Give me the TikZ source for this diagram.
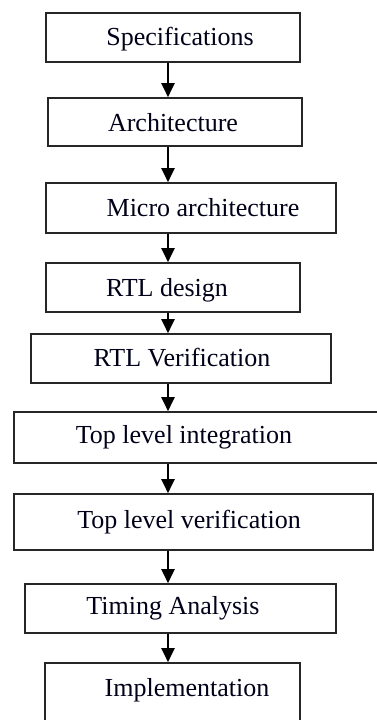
\documentclass[tikz,border=0pt]{standalone}
\usepackage{fontspec}
\setmainfont{Liberation Serif}
\usetikzlibrary{arrows.meta}
\begin{document}
\begin{tikzpicture}[x=1pt,y=-1pt,
  stagebox/.style={draw=black!85,line width=1.6pt,fill=white},
  lbl/.style={font=\fontsize{26}{30}\selectfont,text=black!90!blue,inner sep=0pt,anchor=center},
  flow/.style={line width=2pt,-{Triangle[width=13pt,length=14pt]}}]
\useasboundingbox (0,0) rectangle (377,720);
\clip (0,0) rectangle (377,720);
\coordinate (ax) at (168,0);
% boxes
\node[stagebox,minimum width=254pt,minimum height=49pt,inner sep=0pt] (b1) at (173,37.5) {};
\node[stagebox,minimum width=254pt,minimum height=48pt,inner sep=0pt] (b2) at (175,122) {};
\node[stagebox,minimum width=290pt,minimum height=50pt,inner sep=0pt] (b3) at (191,208) {};
\node[stagebox,minimum width=254pt,minimum height=49pt,inner sep=0pt] (b4) at (173,287.5) {};
\node[stagebox,minimum width=300pt,minimum height=49pt,inner sep=0pt] (b5) at (181,358.5) {};
\node[stagebox,minimum width=370pt,minimum height=51pt,inner sep=0pt] (b6) at (199,437.5) {};
\node[stagebox,minimum width=359pt,minimum height=56pt,inner sep=0pt] (b7) at (193.5,522) {};
\node[stagebox,minimum width=311pt,minimum height=49pt,inner sep=0pt] (b8) at (180.5,608.5) {};
\node[stagebox,minimum width=255pt,minimum height=60pt,inner sep=0pt] (b9) at (172.5,693) {};
% labels
\node[lbl] (t1) at (180,39) {Specifications};
\node[lbl] (t2) at (173,123) {Architecture};
\node[lbl] (t3) at (203,208) {Micro architecture};
\node[lbl] (t4) at (167,290) {RTL design};
\node[lbl] (t5) at (182,358) {RTL Verification};
\node[lbl] (t6) at (184,437) {Top level integration};
\node[lbl] (t7) at (189,522) {Top level verification};
\node[lbl] (t8) at (173,608) {Timing Analysis};
\node[lbl] (t9) at (187,690) {Implementation};
% connectors
\foreach \a/\b in {b1/b2,b2/b3,b3/b4,b4/b5,b5/b6,b6/b7,b7/b8,b8/b9}
  \draw[flow] (\a.south -| ax) -- (\b.north -| ax);
\end{tikzpicture}
\end{document}
